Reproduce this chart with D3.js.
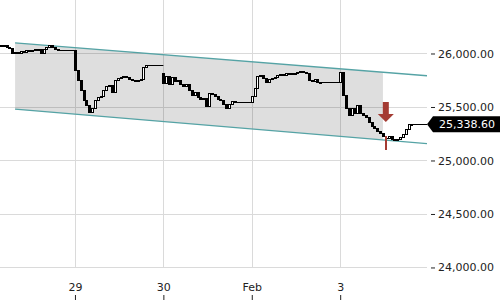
<!DOCTYPE html>
<html lang="en">
<head>
<meta charset="UTF-8"/>
<title>Intraday price channel</title>
<script src="https://cdn.jsdelivr.net/npm/d3@7/dist/d3.min.js"></script>
<style>
  body { margin: 0; background: #fff; }
  svg { display: block; font-family: "DejaVu Sans", sans-serif; }
</style>
</head>
<body>
<script>
var W = 500, H = 300;
var plotR = 427, plotB = 268;

// one trading session per day index, 31 bar slots per day
var SLOTS = 31;
var tickDays = [1, 2, 3, 4];
var tickLabels = ['29', '30', 'Feb', '3'];
var yTicks = [24000, 24500, 25000, 25500, 26000];

// session opening prices and bar closes
var sessionDays = [0, 1, 2, 3, 4];
var sessionFirstSlot = [4, 0, 0, 0, 0];
var sessionOpens = [26075, 26036, 25818, 25551, 25736];
var jan28 = [26080, 26070, 26078, 26060, 26052, 26005, 26010, 26002, 26022, 26012, 26035,
             26025, 26033, 26042, 26045, 26008, 26040, 26058, 26080, 26062, 26045, 26036];
var jan29 = [25846, 25752, 25660, 25565, 25519, 25453, 25491, 25565, 25593, 25603, 25659, 25696, 25706,
             25640, 25752, 25771, 25780, 25790, 25780, 25762, 25752, 25755, 25750, 25762, 25874, 25893];
var jan30 = [25724, 25790, 25715, 25780, 25743, 25752, 25715, 25696, 25715, 25659, 25612, 25640, 25593,
             25575, 25584, 25505, 25631, 25625, 25603, 25575, 25565, 25528, 25491, 25528, 25556, 25551];
var feb2  = [25603, 25678, 25790, 25799, 25771, 25734, 25762, 25771, 25780, 25799, 25808, 25799, 25818,
             25808, 25818, 25822, 25827, 25832, 25827, 25818, 25752, 25743, 25762, 25734, 25736];
var feb3  = [25827, 25612, 25491, 25425, 25491, 25444, 25519, 25444, 25425, 25407, 25360, 25322, 25304,
             25276, 25257, 25229, 25210, 25229, 25201, 25192, 25201, 25220, 25248, 25294, 25341, 25338.6];
var sessionCloses = [jan28, jan29, jan30, feb2, feb3];

// signal bar (red) in the last session
var signalSession = 4, signalSlot = 16, signalLow = 25100;

// regression channel
var channelStart = 10 / SLOTS;          // Jan 28, slot 10
var channelFillEnd = 4 + 15 / SLOTS;    // Feb 3, slot 15
var channelUpper = [26100, 25792];
var channelLower = [25480, 25158];

var lastPrice = 25338.60;

var x = d3.scaleLinear().domain([0.152, 4.982]).range([0, plotR]);
var y = d3.scaleLinear().domain([23995, 26500]).range([plotB, 0]);

// build bars
var bars = [], steps = [];
sessionCloses.forEach(function(closes, s) {
  var prev = sessionOpens[s];
  var pts = [];
  closes.forEach(function(c, i) {
    var slot = sessionFirstSlot[s] + i;
    var t = sessionDays[s] + slot / SLOTS;
    var b = {t: t, o: prev, c: c, signal: (s === signalSession && slot === signalSlot)};
    bars.push(b);
    pts.push([t, c]);
    prev = c;
  });
  var endT = s < sessionCloses.length - 1 ? sessionDays[s + 1] : x.domain()[1];
  pts.push([endT, prev]);
  steps.push(pts);
});

var svg = d3.select('body').append('svg').attr('width', W).attr('height', H);

svg.append('clipPath').attr('id', 'plotClip')
  .append('rect').attr('x', 0).attr('y', 0).attr('width', plotR).attr('height', plotB);

// grid
var grid = svg.append('g').attr('stroke', '#dadada').attr('stroke-width', 1);
grid.selectAll('line.h').data(yTicks).enter().append('line')
  .attr('x1', 0).attr('x2', plotR)
  .attr('y1', function(d) { return Math.round(y(d)) + 0.5; })
  .attr('y2', function(d) { return Math.round(y(d)) + 0.5; });
grid.selectAll('line.v').data(tickDays).enter().append('line')
  .attr('y1', 0).attr('y2', plotB)
  .attr('x1', function(d) { return Math.round(x(d)) + 0.5; })
  .attr('x2', function(d) { return Math.round(x(d)) + 0.5; });

var plot = svg.append('g').attr('clip-path', 'url(#plotClip)');

// channel
var upper = d3.scaleLinear().domain([channelStart, x.domain()[1]]).range(channelUpper);
var lower = d3.scaleLinear().domain([channelStart, x.domain()[1]]).range(channelLower);
var fillPts = [[channelStart, upper(channelStart)], [channelFillEnd, upper(channelFillEnd)],
               [channelFillEnd, lower(channelFillEnd)], [channelStart, lower(channelStart)]];
plot.append('path')
  .attr('d', 'M' + fillPts.map(function(p) { return x(p[0]) + ',' + y(p[1]); }).join('L') + 'Z')
  .attr('fill', 'rgba(0,0,0,0.13)');
[upper, lower].forEach(function(sc) {
  plot.append('line')
    .attr('x1', x(channelStart)).attr('y1', y(sc(channelStart)))
    .attr('x2', x(x.domain()[1])).attr('y2', y(sc(x.domain()[1])))
    .attr('stroke', '#55a3a5').attr('stroke-width', 1.3);
});

// step line
var stepLine = d3.line()
  .x(function(d) { return x(d[0]); })
  .y(function(d) { return Math.round(y(d[1])) + 0.5; })
  .curve(d3.curveStepAfter);
plot.selectAll('path.step').data(steps).enter().append('path')
  .attr('d', stepLine).attr('fill', 'none').attr('stroke', '#000').attr('stroke-width', 1);

// candles
var red = '#a43b33';
bars.forEach(function(b) {
  var cx = Math.round(x(b.t));
  var top = Math.round(y(Math.max(b.o, b.c)));
  var bot = Math.round(y(Math.min(b.o, b.c)));
  if (b.signal) {
    plot.append('rect').attr('x', cx - 1).attr('y', top)
      .attr('width', 2).attr('height', Math.round(y(signalLow)) - top).attr('fill', red);
    return;
  }
  plot.append('rect')
    .attr('x', cx - 0.5).attr('y', top + 0.5)
    .attr('width', 2).attr('height', Math.max(bot - top, 1))
    .attr('fill', b.c >= b.o ? '#fff' : '#000')
    .attr('stroke', '#000').attr('stroke-width', 1);
});

// signal arrow above the red bar
var sig = bars.filter(function(b) { return b.signal; })[0];
var ax = x(sig.t), tip = y(Math.max(sig.o, sig.c)) - 14;
svg.append('path')
  .attr('d', 'M' + (ax - 3) + ',' + (tip - 20) + 'H' + (ax + 3) + 'V' + (tip - 8) + 'H' + (ax + 8) +
             'L' + ax + ',' + tip + 'L' + (ax - 8) + ',' + (tip - 8) + 'H' + (ax - 3) + 'Z')
  .attr('fill', red);

// y axis
var yAxis = svg.append('g').attr('transform', 'translate(431,0)')
  .call(d3.axisRight(y).tickValues(yTicks).tickSize(4).tickPadding(3).tickFormat(d3.format(',.2f')));
yAxis.select('.domain').remove();
yAxis.selectAll('text').attr('font-size', 11).attr('fill', '#222').attr('font-family', '"DejaVu Sans", sans-serif');
yAxis.selectAll('line').attr('stroke', '#222');

// x axis
var xAxis = svg.append('g').attr('transform', 'translate(0,' + H + ')')
  .call(d3.axisTop(x).tickValues(tickDays).tickSize(5).tickPadding(4)
    .tickFormat(function(d, i) { return tickLabels[i]; }));
xAxis.select('.domain').remove();
xAxis.selectAll('text').attr('font-size', 11).attr('fill', '#222').attr('font-family', '"DejaVu Sans", sans-serif');
xAxis.selectAll('line').attr('stroke', '#222');

// last price tag
var ly = y(lastPrice);
svg.append('path')
  .attr('d', 'M' + plotR + ',' + ly + 'L433,' + (ly - 8) + 'H' + W + 'V' + (ly + 8) + 'H433Z')
  .attr('fill', '#000');
svg.append('text').attr('x', 439).attr('y', ly).attr('dy', '0.35em')
  .attr('font-size', 11).attr('fill', '#fff')
  .text(d3.format(',.2f')(lastPrice));
</script>
</body>
</html>
